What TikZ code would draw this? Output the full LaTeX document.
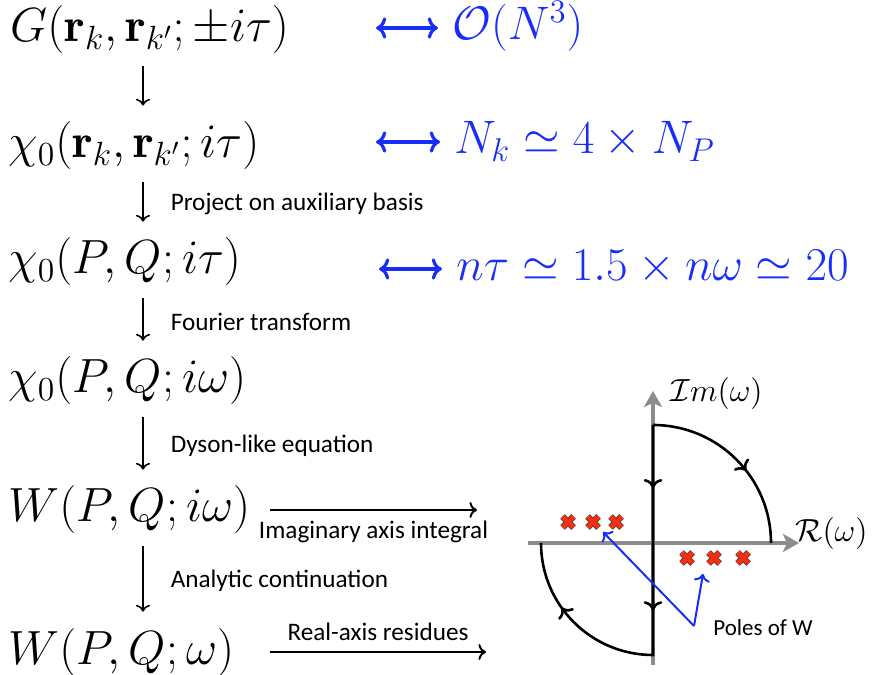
\RequirePackage{fix-cm}
\documentclass[tikz,border=0pt]{standalone}
\usepackage{amsmath}
\usepackage{amssymb}
\usepackage{fontspec}
\newfontfamily\calibri{Carlito}
\usetikzlibrary{arrows.meta,decorations.markings}

\definecolor{costblue}{RGB}{25,45,250}
\definecolor{polered}{RGB}{250,45,15}
\definecolor{axisgray}{RGB}{140,140,140}

\begin{document}
\begin{tikzpicture}[x=0.5pt,y=0.5pt,
  eq/.style={anchor=base west,inner sep=0pt,font=\fontsize{24}{29}\selectfont},
  cost/.style={eq,text=costblue,font=\fontsize{23.5}{28}\selectfont},
  note/.style={inner sep=0pt,font=\calibri\fontsize{12.6}{15}\selectfont},
  flow/.style={-{Computer Modern Rightarrow},line width=0.8pt,shorten <=6pt,shorten >=8pt},
  dbl/.style={{Computer Modern Rightarrow}-{Computer Modern Rightarrow},line width=1.6pt,costblue},
  axis/.style={-{Stealth[length=8pt,width=9pt,inset=2pt]},line width=2pt,axisgray},
  contour/.style={line width=1.3pt,postaction={decorate}},
  pointer/.style={-{Computer Modern Rightarrow},line width=1pt,costblue},
  pole/.pic={
    \draw[line width=3.2pt,black!70] (-5.5,-5.5)--(5.5,5.5) (-5.5,5.5)--(5.5,-5.5);
    \draw[line width=2.3pt,polered] (-5.5,-5.5)--(5.5,5.5) (-5.5,5.5)--(5.5,-5.5);}
]
\useasboundingbox (0,0) rectangle (877,674);

% left column
\node[eq] (G) at (10,632) {$G(\mathbf{r}_k,\mathbf{r}_{k'};\pm i\tau)$};
\node[eq] (chiR) at (8,516) {$\chi_0(\mathbf{r}_k,\mathbf{r}_{k'};i\tau)$};
\node[eq] (chiT) at (8,400) {$\chi_0(P,Q;i\tau)$};
\node[eq] (chiW) at (8,281) {$\chi_0(P,Q;i\omega)$};
\node[eq] (Wi) at (8,152) {$W(P,Q;i\omega)$};
\node[eq] (Wr) at (8,10) {$W(P,Q;\omega)$};

\coordinate (ax) at (143,0);
\draw[flow] (G.south -| ax) -- (chiR.north -| ax);
\draw[flow] (chiR.south -| ax) -- (chiT.north -| ax)
  node[midway,right=13.5pt,note] {Project on auxiliary basis};
\draw[flow] (chiT.south -| ax) -- (chiW.north -| ax)
  node[midway,right=13.5pt,note] {Fourier transform};
\draw[flow] (chiW.south -| ax) -- (Wi.north -| ax)
  node[midway,right=13.5pt,note] {Dyson-like equation};
\draw[flow] (Wi.south -| ax) -- (Wr.north -| ax)
  node[midway,right=13.5pt,note] {Analytic continuation};

% costs
\node[cost] (c1) at (452,634) {$\mathcal{O}(N^3)$};
\node[cost] (c2) at (454,520) {$N_k\simeq 4\times N_P$};
\node[cost] (c3) at (456,393) {$n\tau\simeq 1.5\times n\omega\simeq 20$};
\coordinate (d1) at (376,646);
\coordinate (d2) at (376,532);
\coordinate (d3) at (379,405);
\draw[dbl,shorten >=7pt] (d1) -- (d1 -| c1.west);
\draw[dbl,shorten >=7pt] (d2) -- (d2 -| c2.west);
\draw[dbl,shorten >=7pt] (d3) -- (d3 -| c3.west);

% to the contour
\coordinate (hx) at (270,0);
\coordinate (imEnd) at (477,0);
\coordinate (reEnd) at (486,0);
\draw[flow,line width=1pt,shorten <=0pt,shorten >=0pt] (Wi.east -| hx) -- (Wi.east -| imEnd)
  node[midway,below=5pt,note] {Imaginary axis integral};
\draw[flow,line width=1pt,shorten <=0pt,shorten >=0pt] (Wr.east -| hx) -- (Wr.east -| reEnd)
  node[midway,above=5pt,note] {Real-axis residues};

% complex plane
\coordinate (O) at (653,131);
\draw[axis] (653,9) -- (653,283);
\draw[axis] (528,131) -- (799,131);
\node[anchor=west,inner sep=0pt,font=\fontsize{16}{19}\selectfont] (im) at (670,280) {$\mathcal{I}m(\omega)$};
\node[anchor=west,inner sep=0pt,font=\fontsize{16}{19}\selectfont] (re) at (795,140) {$\mathcal{R}(\omega)$};

\draw[contour,decoration={markings,
  mark=at position 0.58 with {\arrow{Computer Modern Rightarrow}}}]
  (653,249) arc[start angle=90,end angle=0,radius=59pt];
\draw[contour,decoration={markings,
  mark=at position 0.155 with {\arrow{Computer Modern Rightarrow}},
  mark=at position 0.456 with {\arrow{Computer Modern Rightarrow}},
  mark=at position 0.83 with {\arrow{Computer Modern Rightarrow}}}]
  (653,249) -- (653,19) arc[start angle=270,end angle=180,radius=56pt];

\foreach \px/\py in {568/152,593/152,616/152,687/116,714/116,743/116}
  \pic at (\px,\py) {pole};

\coordinate (pw) at (694,48);
\coordinate (pA) at (603,142);
\coordinate (pB) at (703,100);
\draw[pointer] (pw) -- (pA);
\draw[pointer] (pw) -- (pB);
\node[anchor=west,note,font=\calibri\fontsize{11.5}{14}\selectfont] (poles) at (713,46) {Poles of W};

\end{tikzpicture}
\end{document}
